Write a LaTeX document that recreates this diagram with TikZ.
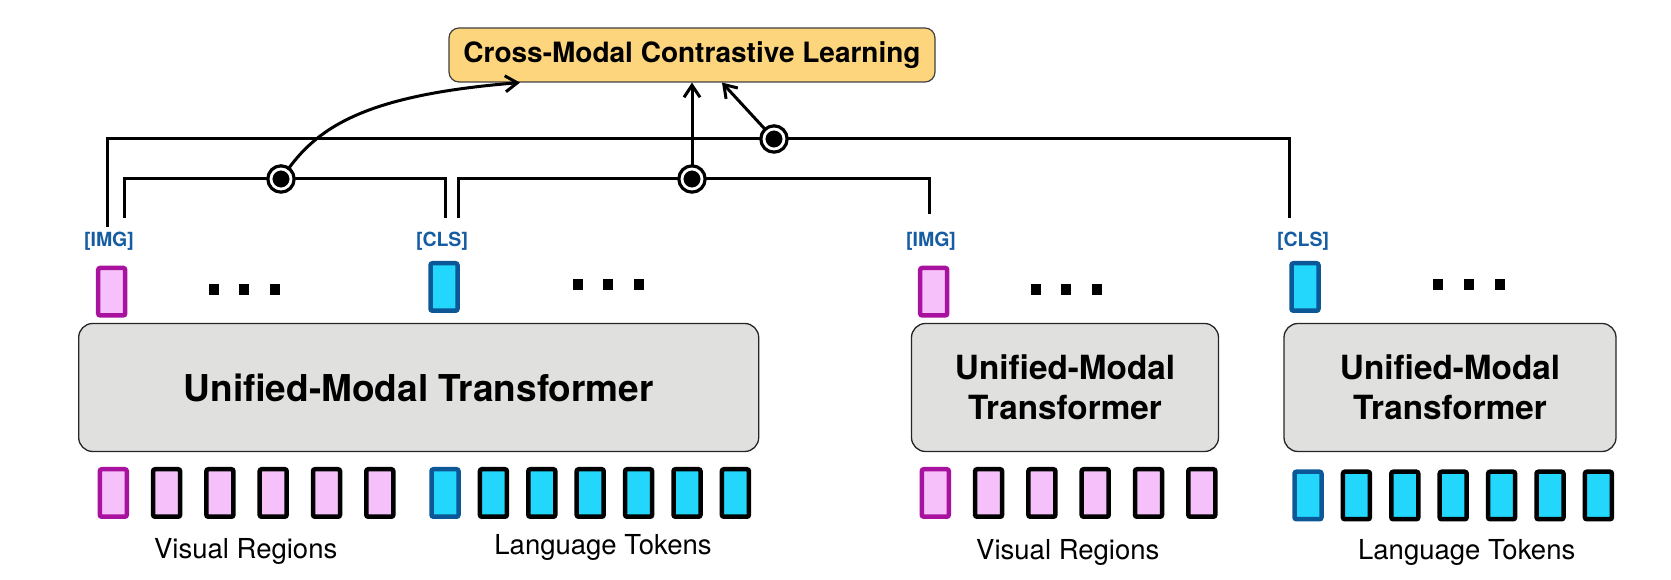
\documentclass[tikz,border=0pt]{standalone}
\usepackage{fontspec}
\setmainfont{TeX Gyre Heros}
\usetikzlibrary{arrows.meta}
\definecolor{tokpink}{RGB}{246,192,250}
\definecolor{tokcyan}{RGB}{34,214,252}
\definecolor{magborder}{RGB}{168,18,158}
\definecolor{navyborder}{RGB}{12,88,150}
\definecolor{tagblue}{RGB}{22,92,162}
\definecolor{boxgray}{RGB}{224,224,223}
\definecolor{goldfill}{RGB}{253,213,125}
\tikzset{
  tok/.style={rectangle, rounded corners=2pt, line width=4.5pt, minimum width=27pt, minimum height=47.5pt, inner sep=0pt},
  vistok/.style={tok, fill=tokpink, draw=black},
  langtok/.style={tok, fill=tokcyan, draw=black},
  imgtok/.style={tok, fill=tokpink, draw=magborder},
  clstok/.style={tok, fill=tokcyan, draw=navyborder},
  toklabel/.style={text=tagblue, font=\fontsize{19.5}{22}\selectfont\bfseries, inner sep=0pt, text height=14pt, text depth=4pt, anchor=base},
  umt/.style={rectangle, rounded corners=14pt, fill=boxgray, draw=black!85, line width=1.3pt, minimum height=128pt, align=center, font=\fontsize{33.3}{39.5}\selectfont\bfseries},
  wire/.style={line width=3pt},
  knob/.style={circle, fill=black, draw=black, double=white, double distance=2.8pt, line width=3.3pt, minimum size=20pt, inner sep=0pt},
  dotsq/.style={fill=black, minimum width=10pt, minimum height=11pt, inner sep=0pt},
  capt/.style={anchor=base, font=\fontsize{27.5}{33}\selectfont}
}
\begin{document}
\begin{tikzpicture}[x=1pt, y=1pt, >={Straight Barb[length=12pt,width=16pt]}]
\useasboundingbox (0,0) rectangle (1671,580);
% objective
\node[rectangle, rounded corners=10pt, fill=goldfill, draw=black!75, line width=1.2pt, minimum width=486pt, minimum height=54pt, font=\fontsize{28}{33}\selectfont\bfseries] (cml) at (692,525) {Cross-Modal Contrastive Learning};

% encoders
\node[umt, minimum width=680pt, font=\fontsize{37}{44}\selectfont\bfseries] (umtA) at (418.7,192.5) {Unified-Modal Transformer};
\node[umt, minimum width=307pt] (umtB) at (1065,192.5) {Unified-Modal\\Transformer};
\node[umt, minimum width=332pt] (umtC) at (1450,192.5) {Unified-Modal\\Transformer};

% outputs
\node[imgtok] (oA) at (111.7,288.3) {};
\node[clstok] (oB) at (444,293) {};
\node[imgtok] (oC) at (933.7,288.3) {};
\node[clstok] (oD) at (1305,293) {};
\node[toklabel] (imgA) at (109,333) {[IMG]};
\node[toklabel] (clsA) at (442,333) {[CLS]};
\node[toklabel] (imgB) at (931,333) {[IMG]};
\node[toklabel] (clsB) at (1303,333) {[CLS]};
\foreach \x [count=\i] in {214.3,244.3,275} \node[dotsq] (dA\i) at (\x,290.5) {};
\foreach \x [count=\i] in {577.5,608,639} \node[dotsq] (dB\i) at (\x,295) {};
\foreach \x [count=\i] in {1036,1066,1096.5} \node[dotsq] (dC\i) at (\x,290.5) {};
\foreach \x [count=\i] in {1438.3,1468.7,1499.7} \node[dotsq] (dD\i) at (\x,295.3) {};

% inputs
\node[imgtok] (vA0) at (113.3,87) {};
\foreach \i in {1,...,5} \node[vistok] (vA\i) at (113.3+53.3*\i,87) {};
\node[clstok] (lA0) at (445,87) {};
\foreach \i in {1,...,6} \node[langtok] (lA\i) at (445+48.4*\i,87) {};
\node[imgtok] (vB0) at (935.3,87) {};
\foreach \i in {1,...,5} \node[vistok] (vB\i) at (935.3+53.3*\i,87) {};
\node[clstok] (lC0) at (1308,84.5) {};
\foreach \i in {1,...,6} \node[langtok] (lC\i) at (1308+48.4*\i,84.5) {};
\node[capt] (capA) at (245.7,21) {Visual Regions};
\node[capt] (capB) at (603,25) {Language Tokens};
\node[capt] (capC) at (1067.8,20) {Visual Regions};
\node[capt] (capD) at (1466.7,20.7) {Language Tokens};

% pairs
\coordinate (j1) at (281,401);
\coordinate (j2) at (692,401);
\coordinate (j3) at (774,441);
\draw[wire] ([xshift=-2pt,yshift=6pt]imgA.north) |- (j3) -| ([xshift=-14pt,yshift=15pt]clsB.north);
\draw[wire] ([xshift=15pt,yshift=15pt]imgA.north) |- (j1) -| ([xshift=3pt,yshift=15pt]clsA.north);
\draw[wire] ([xshift=16pt,yshift=15pt]clsA.north) |- (j2) -| ([xshift=-2pt,yshift=19pt]imgB.north);
\node[knob] (k1) at (j1) {};
\node[knob] (k2) at (j2) {};
\node[knob] (k3) at (j3) {};
\draw[wire, ->] (k1) .. controls +(39,54) and +(-150,-12) .. ([xshift=-172pt]cml.south);
\draw[wire, ->] (k2) -- (cml.south);
\draw[wire, ->] (k3) -- ([xshift=30pt]cml.south);
\end{tikzpicture}
\end{document}
